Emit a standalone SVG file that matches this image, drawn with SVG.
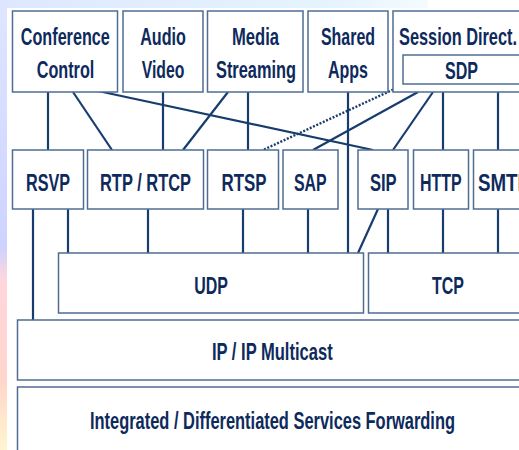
<svg xmlns="http://www.w3.org/2000/svg" width="519" height="450" viewBox="0 0 519 450">
<defs>
<linearGradient id="lg" x1="0" y1="0" x2="0" y2="1">
<stop offset="0" stop-color="#dfe6ff"/>
<stop offset="0.55" stop-color="#cdd3ff"/>
<stop offset="0.62" stop-color="#ffd6dc"/>
<stop offset="0.85" stop-color="#ffd6cc"/>
<stop offset="1" stop-color="#fff6d0"/>
</linearGradient>
<linearGradient id="tg" x1="0" y1="0" x2="1" y2="0">
<stop offset="0" stop-color="#dde8ff"/>
<stop offset="0.8" stop-color="#e6f4ff"/>
<stop offset="1" stop-color="#f4fbff"/>
</linearGradient>
<style>
.b{fill:#fff;stroke:#4f6d92;stroke-width:1.5}
.t{font-family:"Liberation Sans",Arial,sans-serif;font-weight:bold;font-size:24px;fill:#0e2a5c;text-anchor:middle}
.c line{stroke:#173d6e;stroke-width:2.2}
.c .d{stroke-dasharray:2 1.6;stroke-width:2.4}
</style>
</defs>
<rect width="519" height="450" fill="#fff"/>
<rect x="0" y="0" width="428" height="8" fill="url(#tg)"/>
<rect x="0" y="0" width="7" height="450" fill="url(#lg)"/>

<g class="c" id="connectors">
<line x1="48" y1="92" x2="48" y2="150"/>
<line x1="73" y1="92" x2="112" y2="150"/>
<line x1="98" y1="91" x2="373" y2="150"/>
<line x1="163" y1="92" x2="163" y2="150"/>
<line x1="228" y1="92" x2="183" y2="150"/>
<line x1="248" y1="92" x2="248" y2="150"/>
<line x1="348" y1="92" x2="348" y2="253"/>
<line class="d" x1="403" y1="85" x2="263" y2="150"/>
<line x1="418" y1="92" x2="313" y2="150"/>
<line x1="433" y1="92" x2="393" y2="150"/>
<line x1="443" y1="92" x2="443" y2="150"/>
<line x1="498" y1="92" x2="498" y2="150"/>
<line x1="33" y1="209" x2="33" y2="320"/>
<line x1="68" y1="209" x2="68" y2="253"/>
<line x1="148" y1="209" x2="148" y2="253"/>
<line x1="243" y1="209" x2="243" y2="253"/>
<line x1="308" y1="209" x2="308" y2="253"/>
<line x1="378" y1="209" x2="358" y2="253"/>
<line x1="388" y1="209" x2="388" y2="253"/>
<line x1="443" y1="209" x2="443" y2="253"/>
<line x1="498" y1="209" x2="498" y2="253"/>
</g>

<g id="conference-control"><rect class="b" x="12.5" y="11" width="105" height="81"/>
<text class="t" x="65.3" y="45" textLength="89" lengthAdjust="spacingAndGlyphs">Conference</text>
<text class="t" x="65.5" y="78" textLength="57.6" lengthAdjust="spacingAndGlyphs">Control</text></g>
<g id="audio-video"><rect class="b" x="123" y="11" width="80" height="81"/>
<text class="t" x="163" y="45" textLength="45.7" lengthAdjust="spacingAndGlyphs">Audio</text>
<text class="t" x="163" y="78" textLength="42.6" lengthAdjust="spacingAndGlyphs">Video</text></g>
<g id="media-streaming"><rect class="b" x="207.5" y="11" width="95.5" height="81"/>
<text class="t" x="255.5" y="45" textLength="47" lengthAdjust="spacingAndGlyphs">Media</text>
<text class="t" x="256" y="78" textLength="80" lengthAdjust="spacingAndGlyphs">Streaming</text></g>
<g id="shared-apps"><rect class="b" x="308" y="11" width="80" height="81"/>
<text class="t" x="348" y="45" textLength="54" lengthAdjust="spacingAndGlyphs">Shared</text>
<text class="t" x="348" y="78" textLength="40" lengthAdjust="spacingAndGlyphs">Apps</text></g>
<g id="session-direct"><rect class="b" x="393" y="11" width="140" height="81"/>
<text class="t" x="458" y="45" textLength="118" lengthAdjust="spacingAndGlyphs">Session Direct.</text>
<rect class="b" x="403" y="55" width="130" height="29"/>
<text class="t" x="461.5" y="79" textLength="33" lengthAdjust="spacingAndGlyphs">SDP</text></g>

<g id="rsvp"><rect class="b" x="12.5" y="150" width="71" height="59"/>
<text class="t" x="48" y="190.5" textLength="44" lengthAdjust="spacingAndGlyphs">RSVP</text></g>
<g id="rtp-rtcp"><rect class="b" x="87.5" y="150" width="116" height="59"/>
<text class="t" x="145.5" y="190.5" textLength="91" lengthAdjust="spacingAndGlyphs">RTP / RTCP</text></g>
<g id="rtsp"><rect class="b" x="207.5" y="150" width="71" height="59"/>
<text class="t" x="244" y="190.5" textLength="45" lengthAdjust="spacingAndGlyphs">RTSP</text></g>
<g id="sap"><rect class="b" x="283" y="150" width="55" height="59"/>
<text class="t" x="310.3" y="190.5" textLength="32.7" lengthAdjust="spacingAndGlyphs">SAP</text></g>
<g id="sip"><rect class="b" x="358" y="150" width="50" height="59"/>
<text class="t" x="383.3" y="190.5" textLength="26.7" lengthAdjust="spacingAndGlyphs">SIP</text></g>
<g id="http"><rect class="b" x="413.5" y="150" width="55" height="59"/>
<text class="t" x="440.8" y="190.5" textLength="41.7" lengthAdjust="spacingAndGlyphs">HTTP</text></g>
<g id="smtp"><rect class="b" x="473.5" y="150" width="60" height="59"/>
<text class="t" x="504" y="190.5" textLength="52" lengthAdjust="spacingAndGlyphs">SMTP</text></g>

<g id="udp"><rect class="b" x="58.5" y="253" width="305" height="60"/>
<text class="t" x="211" y="293.5" textLength="33.7" lengthAdjust="spacingAndGlyphs">UDP</text></g>
<g id="tcp"><rect class="b" x="368.5" y="253" width="165" height="60"/>
<text class="t" x="448" y="293.5" textLength="32" lengthAdjust="spacingAndGlyphs">TCP</text></g>

<g id="ip"><rect class="b" x="17.5" y="320" width="515" height="60"/>
<text class="t" x="272.3" y="360" textLength="120.7" lengthAdjust="spacingAndGlyphs">IP / IP Multicast</text></g>
<g id="forwarding"><rect class="b" x="17.5" y="387" width="515" height="80"/>
<text class="t" x="272.5" y="429" textLength="365" lengthAdjust="spacingAndGlyphs">Integrated / Differentiated Services Forwarding</text></g>
</svg>
